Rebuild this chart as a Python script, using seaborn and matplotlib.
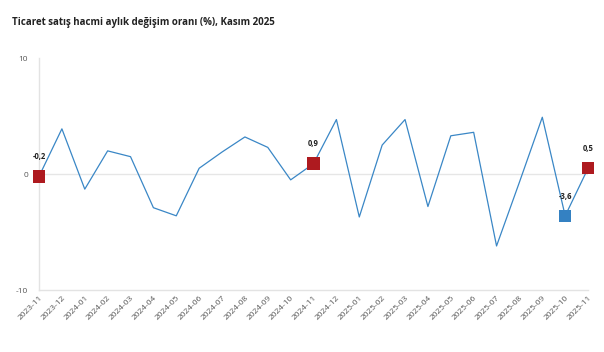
import pandas as pd
import seaborn as sns
import matplotlib.pyplot as plt

months = ['2023-11', '2023-12', '2024-01', '2024-02', '2024-03', '2024-04', '2024-05',
          '2024-06', '2024-07', '2024-08', '2024-09', '2024-10', '2024-11', '2024-12',
          '2025-01', '2025-02', '2025-03', '2025-04', '2025-05', '2025-06', '2025-07',
          '2025-08', '2025-09', '2025-10', '2025-11']
values = [-0.2, 3.9, -1.3, 2.0, 1.5, -2.9, -3.6, 0.5, 1.9, 3.2, 2.3, -0.5, 0.9, 4.7,
          -3.7, 2.5, 4.7, -2.8, 3.3, 3.6, -6.2, -0.7, 4.9, -3.6, 0.5]

# highlighted points (same month last year / current month vs previous month)
red_months = ['2023-11', '2024-11', '2025-11']
blue_months = ['2025-10']

df = pd.DataFrame({'month': months, 'value': values})
df['pos'] = range(len(df))

sns.set_style('white')
plt.rcParams['font.family'] = ['Open Sans', 'DejaVu Sans']

fig = plt.figure(figsize=(6.04, 3.52), dpi=100)
ax = fig.add_axes([0.0646, 0.176, 0.909, 0.659])

ax.axhline(0, color='#e6e6e6', lw=1, zorder=0)
sns.lineplot(data=df, x='pos', y='value', color='#3a87c6', lw=0.9, ax=ax, zorder=2)

red = df[df['month'].isin(red_months)]
blue = df[df['month'].isin(blue_months)]
sns.scatterplot(data=red, x='pos', y='value', marker='s', s=80, color='#ae1a1f',
                edgecolor='none', ax=ax, zorder=3, clip_on=False)
sns.scatterplot(data=blue, x='pos', y='value', marker='s', s=80, color='#3481c2',
                edgecolor='none', ax=ax, zorder=3, clip_on=False)

for _, r in pd.concat([red, blue]).iterrows():
    ax.annotate(f"{r['value']:.1f}".replace('.', ','), (r['pos'], r['value']),
                xytext=(0, 11), textcoords='offset points', ha='center', va='bottom',
                fontsize=5.5, fontweight='bold', color='#222222')

ax.set_xlim(0, len(months) - 1)
ax.set_ylim(-10, 10)
ax.set_yticks([-10, 0, 10])
ax.set_yticklabels(['-10', '0', '10'])
ax.set_xticks(df['pos'])
ax.set_xticklabels(months, rotation=45, ha='right', rotation_mode='anchor')
ax.tick_params(axis='y', labelsize=6, colors='#555555', length=0, pad=8)
ax.tick_params(axis='x', labelsize=6, colors='#555555', length=0, pad=3)
ax.set_xlabel('')
ax.set_ylabel('')

for s in ['top', 'right']:
    ax.spines[s].set_visible(False)
ax.spines['left'].set_color('#e3e3e3')
ax.spines['bottom'].set_color('#e3e3e3')
ax.spines['left'].set_linewidth(1)
ax.spines['bottom'].set_linewidth(1)

fig.text(0.02, 0.935, 'Ticaret satış hacmi aylık değişim oranı (%), Kasım 2025',
         fontsize=7, fontweight='bold', color='#222222', ha='left', va='center')

fig.savefig('out.png', dpi=100)
